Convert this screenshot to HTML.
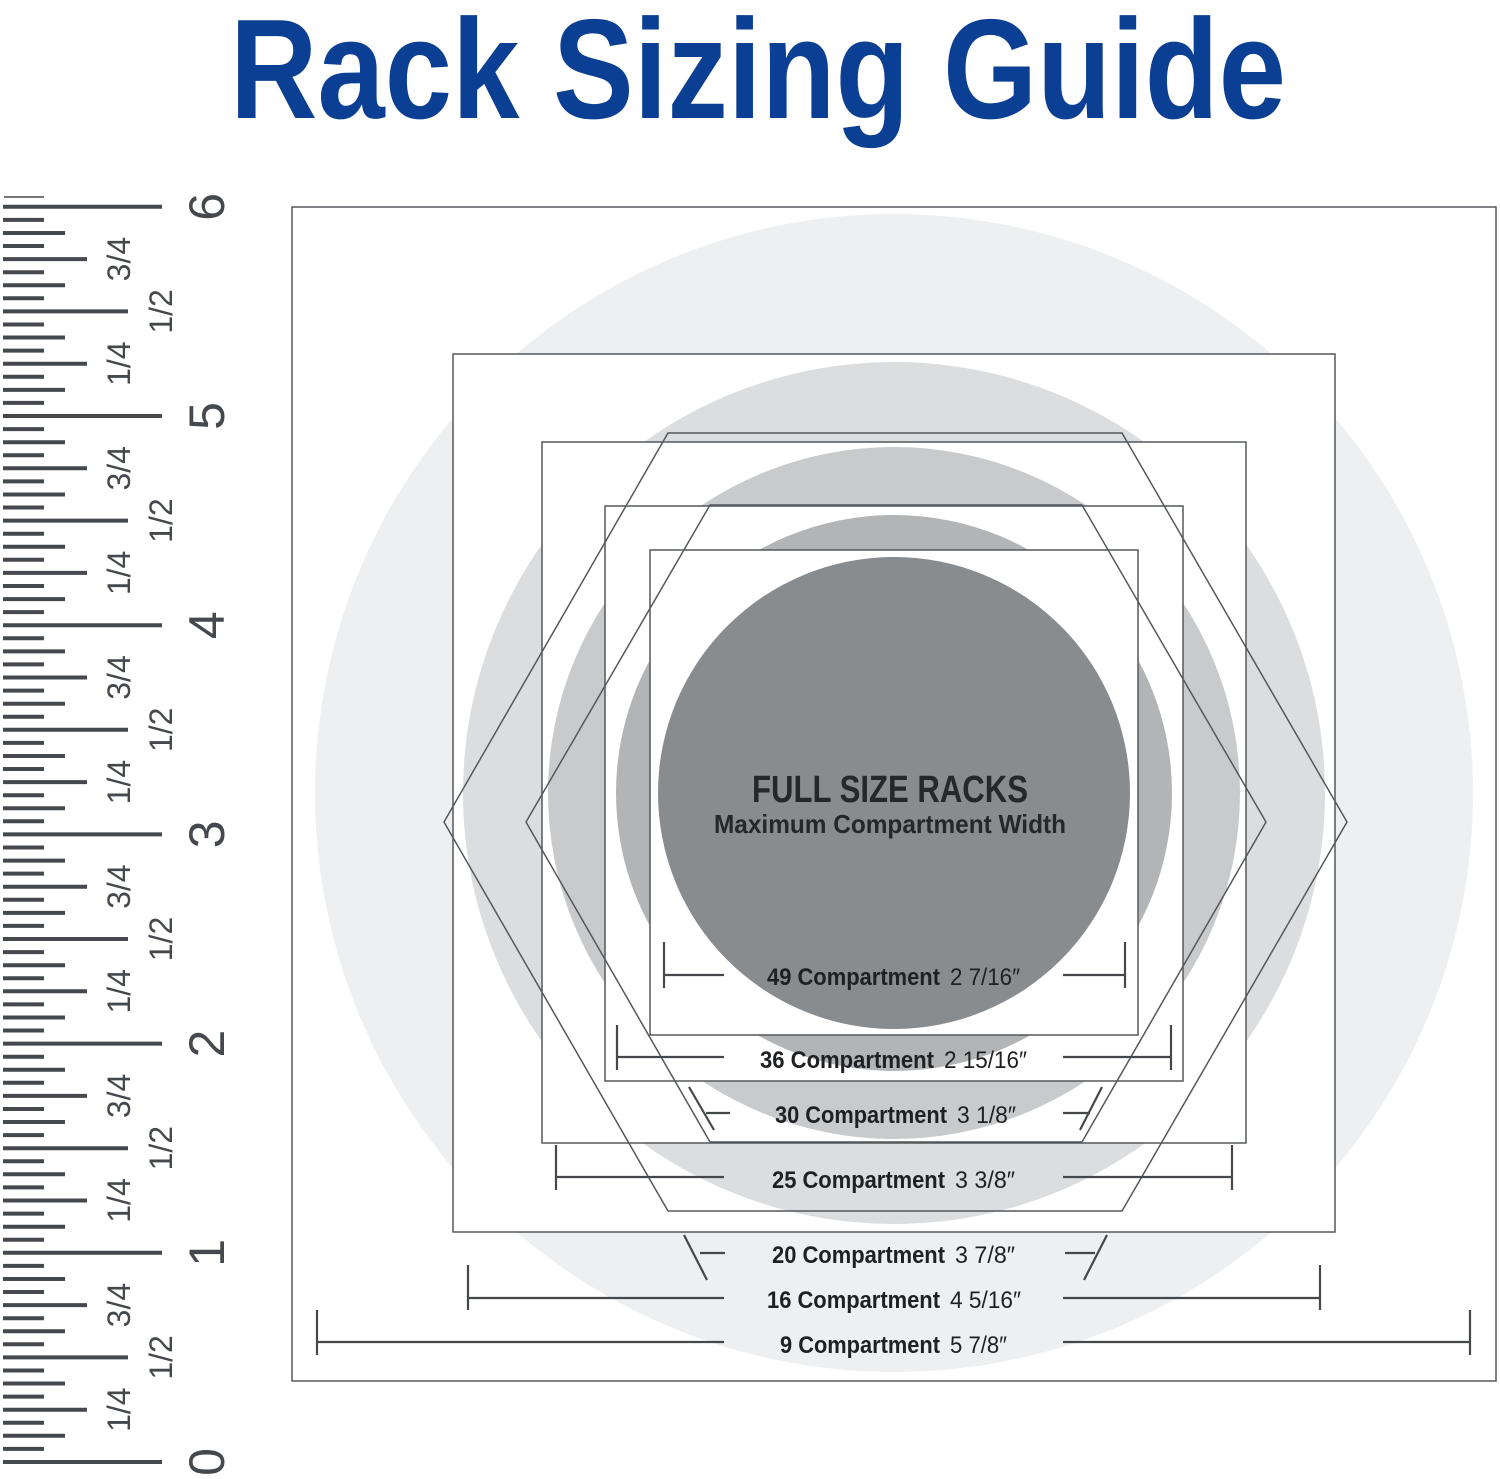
<!DOCTYPE html>
<html><head><meta charset="utf-8"><style>
html,body{margin:0;padding:0;background:#fff;}
svg{display:block;}
</style></head><body>
<svg id="s" width="1500" height="1479" viewBox="0 0 1500 1479" xmlns="http://www.w3.org/2000/svg" font-family="Liberation Sans, sans-serif">
<text x="230" y="118" font-size="142" font-weight="bold" fill="#0b3f94" textLength="1056" lengthAdjust="spacingAndGlyphs">Rack Sizing Guide</text>

<circle cx="894" cy="793" r="579" fill="#eeeff0"/>
<rect x="453" y="354" width="882" height="878" fill="#fff"/>
<circle cx="894" cy="793" r="431" fill="#dcdddf"/>
<rect x="542" y="442" width="704" height="701" fill="#fff"/>
<circle cx="894" cy="793" r="346" fill="#c9cacc"/>
<rect x="605" y="506" width="578" height="575" fill="#fff"/>
<circle cx="894" cy="793" r="278" fill="#b2b4b6"/>
<rect x="650" y="550" width="488" height="485" fill="#fff"/>
<circle cx="894" cy="793" r="236" fill="#898c8f"/>

<g fill="none" stroke="#55585b" stroke-width="1.5">
<rect x="292" y="207" width="1204" height="1174"/>
<rect x="453" y="354" width="882" height="878"/>
<rect x="542" y="442" width="704" height="701"/>
<rect x="605" y="506" width="578" height="575"/>
<rect x="650" y="550" width="488" height="485"/>
<polygon points="668,433 1122,433 1347,822 1122,1211 668,1211 444,822"/>
<polygon points="710,505 1082,505 1266,822 1082,1142 710,1142 526,822"/>
</g>

<text x="752" y="802" font-size="38" font-weight="bold" fill="#25272a" textLength="276" lengthAdjust="spacingAndGlyphs">FULL SIZE RACKS</text>
<text x="714" y="833" font-size="26" font-weight="bold" fill="#25272a" textLength="352" lengthAdjust="spacingAndGlyphs">Maximum Compartment Width</text>

<g fill="none" stroke="#45484b" stroke-width="2.2">
<path d="M664 942V988M664 975H724M1063 975H1125M1125 942V988"/>
<path d="M617 1025V1070M617 1057H724M1063 1057H1171M1171 1025V1070"/>
<path d="M689 1087L714 1130M706 1113H730M1102 1087L1080 1130M1063 1113H1090"/>
<path d="M556 1145V1190M556 1177H724M1063 1177H1232M1232 1145V1190"/>
<path d="M684 1235L707 1280M700 1253H725M1107 1235L1084 1280M1065 1253H1095"/>
<path d="M468 1265V1310M468 1298H724M1063 1298H1320M1320 1265V1310"/>
<path d="M317 1310V1355M317 1342H724M1063 1342H1470M1470 1310V1355"/>
</g>

<g font-size="24" fill="#1e2023">
<text x="767" y="985" font-weight="bold" textLength="173" lengthAdjust="spacingAndGlyphs">49 Compartment</text><text x="950" y="985" textLength="70" lengthAdjust="spacingAndGlyphs">2 7/16″</text>
<text x="760" y="1068" font-weight="bold" textLength="174" lengthAdjust="spacingAndGlyphs">36 Compartment</text><text x="944" y="1068" textLength="83" lengthAdjust="spacingAndGlyphs">2 15/16″</text>
<text x="775" y="1123" font-weight="bold" textLength="172" lengthAdjust="spacingAndGlyphs">30 Compartment</text><text x="957" y="1123" textLength="59" lengthAdjust="spacingAndGlyphs">3 1/8″</text>
<text x="772" y="1188" font-weight="bold" textLength="173" lengthAdjust="spacingAndGlyphs">25 Compartment</text><text x="955" y="1188" textLength="60" lengthAdjust="spacingAndGlyphs">3 3/8″</text>
<text x="772" y="1263" font-weight="bold" textLength="173" lengthAdjust="spacingAndGlyphs">20 Compartment</text><text x="955" y="1263" textLength="60" lengthAdjust="spacingAndGlyphs">3 7/8″</text>
<text x="767" y="1308" font-weight="bold" textLength="173" lengthAdjust="spacingAndGlyphs">16 Compartment</text><text x="950" y="1308" textLength="71" lengthAdjust="spacingAndGlyphs">4 5/16″</text>
<text x="780" y="1353" font-weight="bold" textLength="160" lengthAdjust="spacingAndGlyphs">9 Compartment</text><text x="950" y="1353" textLength="57" lengthAdjust="spacingAndGlyphs">5 7/8″</text>
</g>

<g id="ruler" stroke="#45494d" stroke-width="4"></g>
<g id="rl" fill="#45494d"></g>
<line x1="4" y1="197" x2="44" y2="197" stroke="#45494d" stroke-width="1.5"/>
</svg>
<script>
var NS="http://www.w3.org/2000/svg";
var g=document.getElementById("ruler"),gl=document.getElementById("rl");
var y0=1462,pi=209.2;
for(var i=0;i<=96;i++){
  var y=y0-i*pi/16,len;
  if(i%16==0)len=162;else if(i%8==0)len=128;else if(i%4==0)len=87;else if(i%2==0)len=65;else len=44;
  var l=document.createElementNS(NS,"line");
  l.setAttribute("x1",3);l.setAttribute("x2",len);l.setAttribute("y1",y.toFixed(1));l.setAttribute("y2",y.toFixed(1));
  g.appendChild(l);
}
function t(x,y,s,sz){
  var e=document.createElementNS(NS,"text");
  e.setAttribute("transform","translate("+x+","+y+") rotate(-90)");
  e.setAttribute("font-size",sz);e.setAttribute("text-anchor","middle");
  e.textContent=s;gl.appendChild(e);
}
for(var k=0;k<=6;k++){
  var yb=y0-k*pi;
  t(224,yb,String(k),50);
  if(k<6){
    t(130,yb-pi*0.25,"1/4",32);
    t(172,yb-pi*0.5,"1/2",32);
    t(130,yb-pi*0.75,"3/4",32);
  }
}
</script>
</body></html>
